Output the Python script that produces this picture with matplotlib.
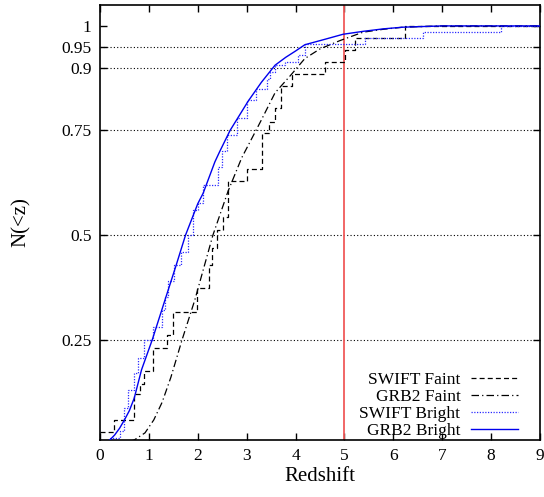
import matplotlib
matplotlib.use("Agg")
import matplotlib.pyplot as plt

plt.rcParams['font.family'] = ['Liberation Serif', 'DejaVu Serif']
plt.rcParams['mathtext.fontset'] = 'stix'

# --- data ---
# SWIFT Faint: empirical step CDF (redshift where the step starts, level)
swift_faint_z = [0.00, 0.29, 0.70, 0.82, 0.91, 1.09, 1.38, 1.50, 1.98, 2.22, 2.30, 2.39,
                 2.52, 2.61, 3.00, 3.31, 3.45, 3.58, 3.70, 3.92, 4.60, 5.01, 5.21, 6.24, 9.0]
swift_faint_n = [0.029, 0.059, 0.119, 0.144, 0.174, 0.23, 0.26, 0.315, 0.373, 0.429, 0.47, 0.512,
                 0.544, 0.629, 0.657, 0.743, 0.771, 0.803, 0.856, 0.886, 0.914, 0.942, 0.971, 1.0, 1.0]

# SWIFT Bright: empirical step CDF
swift_bright_z = [0.00, 0.20, 0.41, 0.50, 0.58, 0.70, 0.78, 0.91, 1.09, 1.26, 1.33, 1.40, 1.52,
                  1.66, 1.81, 1.91, 2.01, 2.11, 2.41, 2.49, 2.59, 2.80, 3.00, 3.20, 3.41, 3.48,
                  3.58, 3.78, 4.05, 4.19, 5.42, 6.61, 8.21, 9.0]
swift_bright_n = [0.005, 0.015, 0.031, 0.087, 0.13, 0.17, 0.206, 0.25, 0.28, 0.32, 0.353, 0.39, 0.429,
                  0.46, 0.50, 0.56, 0.576, 0.62, 0.663, 0.70, 0.739, 0.78, 0.823, 0.85, 0.874, 0.89,
                  0.906, 0.914, 0.93, 0.956, 0.971, 0.985, 1.0, 1.0]

# GRB2 Faint: model CDF
grb2_faint_z = [0.0, 0.3, 0.5, 0.7, 0.92, 1.1, 1.27, 1.45, 1.68, 1.94, 2.31, 2.62, 2.9, 3.19,
                3.3, 3.58, 3.9, 4.19, 4.5, 4.91, 5.38, 5.8, 6.2, 7.0, 9.0]
grb2_faint_n = [0.0, 0.0, 0.003, 0.01, 0.027, 0.058, 0.10, 0.16, 0.25, 0.345, 0.50, 0.605, 0.685, 0.75,
                0.775, 0.84, 0.882, 0.922, 0.945, 0.965, 0.985, 0.992, 0.997, 1.0, 1.0]

# GRB2 Bright: model CDF
grb2_bright_z = [0.0, 0.1, 0.2, 0.3, 0.4, 0.5, 0.6, 0.7, 0.85, 1.07, 1.33, 1.55, 1.75, 2.0, 2.11,
                 2.35, 2.45, 2.66, 3.03, 3.3, 3.58, 3.8, 4.0, 4.19, 4.6, 4.97, 5.38, 5.8, 6.2, 7.0, 9.0]
grb2_bright_n = [0.0, 0.002, 0.01, 0.022, 0.038, 0.058, 0.08, 0.11, 0.178, 0.25, 0.345, 0.425, 0.5,
                 0.575, 0.6, 0.675, 0.70, 0.75, 0.82, 0.865, 0.906, 0.925, 0.94, 0.955, 0.968, 0.98,
                 0.987, 0.993, 0.997, 1.0, 1.0]

grid_levels = [0.25, 0.5, 0.75, 0.9, 0.95]
ytick_vals = [0.25, 0.5, 0.75, 0.9, 0.95, 1]
ytick_labels = ['0.25', '0.5', '0.75', '0.9', '0.95', '1']
xtick_vals = list(range(0, 10))
z_cut = 5

fig = plt.figure(figsize=(5.44, 4.97), dpi=100)
ax = fig.add_axes([100/544, 57/497, 440/544, 435/497])

for lv in grid_levels:
    ax.axhline(lv, color='black', lw=0.8, ls=(0, (1, 2)), zorder=1)

ax.axvline(z_cut, color='#f05a5a', lw=1.3, zorder=2)

ax.step(swift_faint_z, swift_faint_n, where='post', color='black', lw=0.9,
        ls=(0, (4, 2.5)), label='SWIFT Faint', zorder=3)
ax.plot(grb2_faint_z, grb2_faint_n, color='black', lw=0.9,
        ls=(0, (6, 2.5, 1, 2.5)), label='GRB2 Faint', zorder=3)
ax.step(swift_bright_z, swift_bright_n, where='post', color='#2a2aff', lw=0.9,
        ls=(0, (1, 1.2)), label='SWIFT Bright', zorder=3)
ax.plot(grb2_bright_z, grb2_bright_n, color='#0000ee', lw=1.0,
        label='GRB2 Bright', zorder=4)

ax.set_xlim(0, 9)
ax.set_ylim(0.01, 1.05)
ax.set_xticks(xtick_vals)
ax.set_yticks(ytick_vals)
ax.set_yticklabels(ytick_labels)
ax.tick_params(direction='in', length=5, width=1, labelsize=12.5,
               top=True, right=True, pad=6)
for s in ax.spines.values():
    s.set_linewidth(1.2)

ax.set_xlabel('Redshift', fontsize=15, labelpad=2)
ax.set_ylabel('N(<z)', fontsize=15, labelpad=22)

leg = ax.legend(loc='lower right', bbox_to_anchor=(0.977, -0.025), frameon=False,
                fontsize=12.5, markerfirst=False, handlelength=2.7,
                handletextpad=0.6, labelspacing=0.05, borderaxespad=0.3)
for t in leg.get_texts():
    t.set_ha('right')

fig.savefig('out.png', dpi=100)
